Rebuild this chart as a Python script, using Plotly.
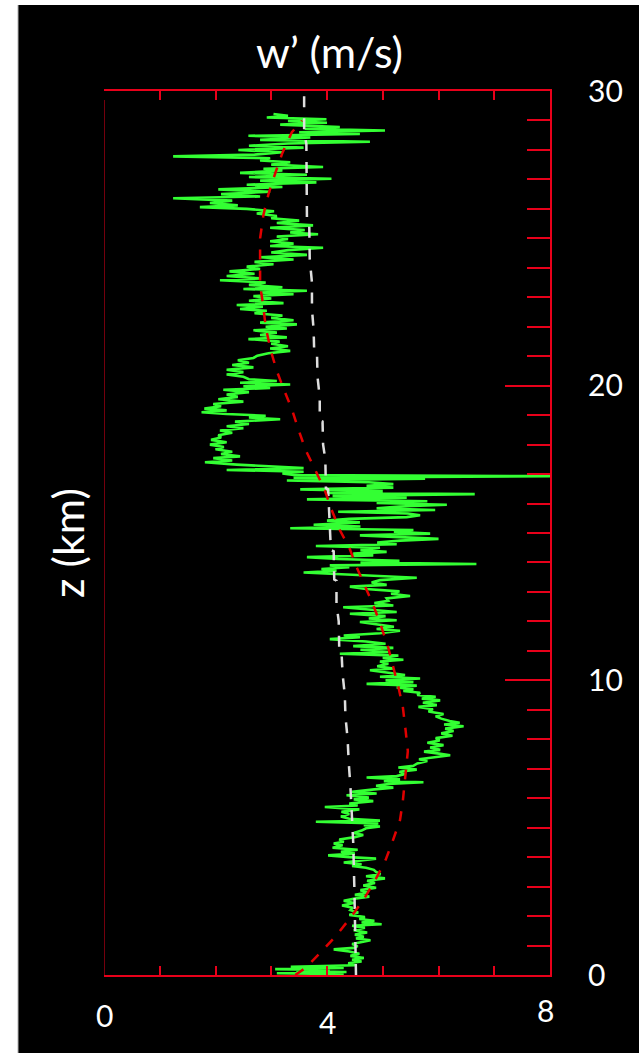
import plotly.graph_objects as go

# ---- canvas / plot box (pixels) ----
W, H = 639, 1053
ML, MR, MT, MB = 104, 89, 91, 78
PW, PH = W - ML - MR, H - MT - MB

# ---- axis content ----
x_range = [0, 8]
z_range = [0, 30]
z_major = [0, 10, 20, 30]
z_labels = ["0", "10", "20", "30"]
x_label_vals = [0, 4, 8]
x_label_text = ["0", "4", "8"]

# ---- measured w' profile, (z km, w' m/s), split by altitude band ----
green_0_4 = [
    (0.00, 3.55), (0.03, 4.30), (0.06, 3.10), (0.10, 4.35), (0.13, 3.45), (0.17, 4.05),
    (0.20, 3.07), (0.24, 4.30), (0.28, 3.35), (0.33, 4.50), (0.40, 4.38), (0.46, 4.62),
    (0.52, 4.45), (0.58, 4.66), (0.65, 4.42), (0.72, 4.58), (0.80, 4.40), (0.87, 4.12),
    (0.92, 4.48), (0.98, 4.55), (1.05, 4.45), (1.12, 4.62), (1.18, 4.78), (1.24, 4.52),
    (1.30, 4.66), (1.37, 4.50), (1.44, 4.72), (1.52, 4.48), (1.60, 4.68), (1.67, 4.45),
    (1.72, 4.98), (1.78, 4.62), (1.84, 4.85), (1.90, 4.58), (1.97, 4.68), (2.04, 4.40),
    (2.12, 4.56), (2.20, 4.42), (2.28, 4.46), (2.36, 4.27), (2.44, 4.48), (2.52, 4.30),
    (2.60, 4.52), (2.66, 4.76), (2.72, 4.50), (2.80, 4.73), (2.88, 4.60), (2.96, 4.88),
    (3.04, 4.65), (3.12, 4.86), (3.20, 4.72), (3.28, 5.04), (3.35, 4.70), (3.42, 4.96),
    (3.50, 4.88), (3.57, 4.84), (3.64, 4.70), (3.70, 4.45), (3.76, 4.62), (3.82, 4.30),
    (3.88, 4.56), (3.95, 4.88), (4.00, 4.40), (4.06, 4.02), (4.12, 4.50), (4.18, 4.25),
]
green_4_10 = [
    (4.25, 4.55), (4.32, 4.10), (4.40, 4.28), (4.46, 4.12), (4.52, 4.30), (4.60, 4.22),
    (4.68, 4.50), (4.75, 4.65), (4.82, 4.48), (4.90, 4.62), (4.98, 4.70), (5.04, 4.95),
    (5.08, 4.66), (5.14, 4.92), (5.20, 3.80), (5.24, 4.95), (5.30, 4.40), (5.38, 4.25),
    (5.46, 4.40), (5.54, 4.26), (5.62, 4.58), (5.70, 3.96), (5.75, 4.55), (5.82, 4.40),
    (5.90, 4.83), (5.96, 4.48), (6.02, 4.75), (6.10, 4.35), (6.16, 4.89), (6.22, 4.45),
    (6.30, 4.85), (6.36, 5.19), (6.42, 4.88), (6.48, 5.10), (6.54, 5.73), (6.58, 5.02),
    (6.64, 5.31), (6.70, 4.71), (6.75, 5.25), (6.82, 5.40), (6.90, 5.30), (6.97, 5.61),
    (7.04, 5.28), (7.10, 5.55), (7.18, 5.62), (7.26, 5.80), (7.32, 5.65), (7.40, 5.95),
    (7.46, 6.21), (7.52, 5.98), (7.58, 5.74), (7.64, 6.03), (7.72, 5.85), (7.80, 6.09),
    (7.88, 5.80), (7.96, 6.02), (8.04, 5.95), (8.12, 6.25), (8.20, 6.05), (8.28, 6.27),
    (8.36, 6.12), (8.44, 6.45), (8.50, 6.10), (8.56, 6.38), (8.62, 6.20), (8.70, 6.05),
    (8.78, 5.95), (8.86, 6.09), (8.94, 5.82), (9.02, 5.90), (9.10, 5.64), (9.16, 5.97),
    (9.24, 5.72), (9.32, 6.03), (9.38, 5.70), (9.44, 5.95), (9.50, 5.62), (9.58, 5.67),
    (9.64, 5.37), (9.70, 5.55),
]
green_10_17 = [
    (9.76, 5.25), (9.82, 5.61), (9.88, 4.71), (9.94, 5.55), (10.00, 5.05), (10.06, 5.67),
    (10.12, 4.95), (10.18, 5.40), (10.26, 5.10), (10.34, 4.77), (10.40, 5.19), (10.48, 4.90),
    (10.56, 5.10), (10.64, 4.95), (10.70, 5.37), (10.76, 5.00), (10.84, 5.28), (10.90, 4.23),
    (10.96, 5.10), (11.04, 4.60), (11.10, 5.19), (11.16, 4.47), (11.24, 5.05), (11.32, 4.70),
    (11.40, 4.05), (11.46, 4.59), (11.52, 4.30), (11.60, 4.95), (11.68, 5.31), (11.74, 4.89),
    (11.82, 5.20), (11.90, 4.90), (11.98, 4.59), (12.04, 5.25), (12.10, 4.75), (12.18, 5.05),
    (12.26, 4.41), (12.32, 5.25), (12.40, 4.80), (12.48, 4.29), (12.54, 5.19), (12.62, 4.85),
    (12.70, 5.10), (12.78, 5.07), (12.86, 5.49), (12.94, 5.15), (13.02, 5.30), (13.10, 4.70),
    (13.18, 4.41), (13.24, 5.07), (13.32, 4.80), (13.40, 4.95), (13.48, 5.61), (13.54, 5.00),
    (13.60, 4.40), (13.66, 3.58), (13.72, 4.17), (13.78, 3.90), (13.84, 4.40), (13.90, 4.05),
    (13.95, 6.68), (14.00, 4.60), (14.06, 5.30), (14.12, 4.20), (14.18, 3.64), (14.24, 4.83),
    (14.30, 4.47), (14.36, 5.07), (14.42, 4.60), (14.50, 4.95), (14.56, 3.80), (14.62, 5.25),
    (14.68, 4.90), (14.74, 5.31), (14.80, 6.00), (14.86, 5.40), (14.92, 4.59), (14.98, 5.85),
    (15.04, 5.20), (15.10, 5.55), (15.16, 3.34), (15.22, 4.60), (15.28, 3.76), (15.36, 4.59),
    (15.42, 4.00), (15.48, 4.40), (15.54, 5.43), (15.60, 5.67), (15.66, 5.45), (15.72, 4.20),
    (15.78, 5.94), (15.84, 4.89), (15.90, 5.30), (15.96, 6.15), (16.02, 4.89), (16.08, 5.80),
    (16.14, 3.64), (16.20, 5.43), (16.26, 4.10), (16.32, 6.65), (16.36, 3.99), (16.42, 5.00),
    (16.48, 3.52), (16.54, 5.19), (16.60, 4.71), (16.66, 5.19), (16.72, 4.75), (16.78, 3.28),
    (16.84, 5.76), (16.88, 3.40), (16.93, 8.00), (16.97, 3.40), (17.02, 3.20), (17.08, 3.58),
    (17.14, 2.20), (17.20, 3.58), (17.26, 2.90),
]
green_17_23 = [
    (17.32, 2.38), (17.40, 1.81), (17.46, 2.30), (17.54, 1.96), (17.60, 2.44), (17.68, 2.10),
    (17.76, 2.30), (17.84, 2.00), (17.92, 2.15), (18.00, 1.90), (18.08, 2.20), (18.16, 1.92),
    (18.24, 2.10), (18.32, 2.05), (18.40, 2.30), (18.48, 2.08), (18.56, 2.50), (18.62, 2.20),
    (18.70, 2.60), (18.78, 2.35), (18.86, 3.16), (18.92, 2.60), (18.98, 2.90), (19.04, 2.20),
    (19.10, 1.75), (19.16, 2.20), (19.22, 1.80), (19.30, 2.10), (19.38, 1.96), (19.46, 2.50),
    (19.54, 2.05), (19.62, 2.40), (19.70, 2.20), (19.78, 2.60), (19.86, 2.14), (19.92, 2.98),
    (19.98, 2.50), (20.04, 3.34), (20.10, 2.44), (20.16, 3.10), (20.22, 2.60), (20.30, 2.50),
    (20.38, 2.20), (20.46, 2.50), (20.54, 2.20), (20.62, 2.68), (20.70, 2.30), (20.78, 2.60),
    (20.86, 2.40), (20.94, 2.68), (21.02, 2.75), (21.10, 2.95), (21.18, 3.34), (21.26, 2.98),
    (21.34, 3.30), (21.42, 3.00), (21.50, 3.15), (21.58, 2.59), (21.64, 3.28), (21.72, 2.80),
    (21.80, 3.10), (21.88, 2.68), (21.94, 3.28), (22.00, 2.90), (22.08, 3.46), (22.14, 2.80),
    (22.22, 3.40), (22.30, 3.00), (22.38, 3.20), (22.46, 2.70), (22.54, 2.92), (22.60, 2.44),
    (22.68, 2.85), (22.74, 2.38), (22.80, 3.22), (22.88, 2.60), (22.96, 3.00), (23.04, 2.68),
    (23.10, 3.40), (23.16, 2.80), (23.22, 3.64),
]
green_23_30 = [
    (23.28, 2.50), (23.34, 3.20), (23.42, 2.60), (23.50, 2.90), (23.58, 2.08), (23.64, 2.80),
    (23.72, 2.20), (23.80, 2.70), (23.88, 2.25), (23.96, 2.80), (24.04, 2.56), (24.12, 3.04),
    (24.20, 2.70), (24.28, 3.40), (24.36, 2.80), (24.44, 3.64), (24.52, 3.00), (24.60, 3.30),
    (24.68, 3.93), (24.74, 2.98), (24.82, 3.40), (24.90, 2.98), (24.98, 3.30), (25.06, 3.10),
    (25.14, 3.84), (25.20, 3.34), (25.28, 3.60), (25.36, 2.98), (25.44, 3.75), (25.52, 3.10),
    (25.60, 3.50), (25.68, 3.00), (25.76, 3.10), (25.84, 2.74), (25.92, 3.05), (26.00, 2.56),
    (26.06, 1.72), (26.12, 2.40), (26.20, 1.90), (26.28, 2.30), (26.36, 1.24), (26.42, 2.80),
    (26.50, 2.10), (26.58, 2.98), (26.66, 2.05), (26.74, 3.20), (26.82, 2.56), (26.90, 3.81),
    (26.96, 2.80), (27.02, 4.08), (27.08, 2.60), (27.16, 3.64), (27.22, 2.44), (27.30, 3.20),
    (27.36, 2.86), (27.42, 3.93), (27.50, 3.00), (27.58, 3.34), (27.64, 2.80), (27.72, 2.98),
    (27.78, 1.24), (27.84, 2.70), (27.92, 3.20), (28.00, 2.41), (28.08, 3.58), (28.14, 2.60),
    (28.22, 3.30), (28.28, 4.77), (28.34, 2.80), (28.42, 3.70), (28.48, 2.59), (28.54, 4.59),
    (28.60, 3.50), (28.66, 5.04), (28.72, 3.60), (28.78, 4.23), (28.86, 3.16), (28.92, 4.00),
    (28.98, 3.30), (29.04, 3.99), (29.10, 2.92), (29.16, 3.30), (29.22, 3.04),
]

# ---- smoothed profile (red dashed), (z km, w' m/s) ----
red_profile = [
    (0.00, 3.43), (0.22, 3.60), (0.79, 3.90), (1.35, 4.17), (1.92, 4.41), (2.54, 4.65),
    (3.20, 4.86), (3.90, 5.05), (4.50, 5.17), (5.26, 5.31), (5.90, 5.36), (6.73, 5.40),
    (7.60, 5.45), (8.30, 5.41), (9.10, 5.36), (9.78, 5.28), (10.46, 5.19), (11.10, 5.10),
    (11.90, 4.96), (12.55, 4.83), (13.20, 4.68), (13.85, 4.53), (14.50, 4.40), (15.10, 4.23),
    (15.80, 4.08), (16.45, 3.96), (17.10, 3.80), (17.80, 3.62), (18.50, 3.49), (19.20, 3.37),
    (19.85, 3.23), (20.50, 3.10), (21.20, 2.99), (22.00, 2.90), (22.80, 2.85), (23.40, 2.80),
    (24.20, 2.80), (25.00, 2.80), (25.80, 2.86), (26.50, 2.95), (27.20, 3.07), (27.90, 3.20),
    (28.60, 3.37), (29.00, 3.55),
]

# ---- reference profile (white dashed), (z km, w' m/s) ----
white_profile = [
    (0.00, 4.52), (1.50, 4.51), (3.00, 4.49), (4.50, 4.47), (5.50, 4.45), (6.40, 4.42),
    (7.20, 4.39), (8.00, 4.37), (8.80, 4.33), (9.50, 4.32), (10.20, 4.28), (10.98, 4.26),
    (11.02, 4.22), (12.00, 4.21), (12.60, 4.17), (13.38, 4.17), (13.42, 4.13), (14.38, 4.12),
    (14.42, 4.07), (15.80, 4.04), (16.48, 4.02), (16.52, 3.98), (17.50, 3.97), (18.00, 3.93),
    (18.78, 3.92), (18.82, 3.87), (19.60, 3.87), (20.30, 3.83), (21.13, 3.82), (21.17, 3.77),
    (21.90, 3.76), (22.60, 3.73), (23.50, 3.73), (24.30, 3.69), (25.00, 3.68), (25.68, 3.68),
    (25.72, 3.64), (27.00, 3.64), (28.20, 3.63), (28.60, 3.59), (29.85, 3.59),
]

RED = "#e8001a"
GREEN = "#33ff33"
FONT = "Lato, 'Open Sans', sans-serif"

green = green_0_4 + green_4_10 + green_10_17 + green_17_23 + green_23_30

fig = go.Figure()
fig.add_trace(go.Scatter(
    x=[w for _, w in green], y=[z for z, _ in green],
    mode="lines", line=dict(color=GREEN, width=2.6), hoverinfo="skip",
))
fig.add_trace(go.Scatter(
    x=[w for _, w in white_profile], y=[z for z, _ in white_profile],
    mode="lines", line=dict(color="#dedede", width=2.5, dash="11px,11px"), hoverinfo="skip",
))
fig.add_trace(go.Scatter(
    x=[w for _, w in red_profile], y=[z for z, _ in red_profile],
    mode="lines", line=dict(color="#e00000", width=2.5, dash="10px,11px"), hoverinfo="skip",
))


def px_x(p):
    return (p - ML) / PW


def px_y(p):
    return (H - MB - p) / PH


shapes = [
    # black page area with a narrow white strip at the left and top
    dict(type="rect", xref="paper", yref="paper", layer="below",
         x0=px_x(18), x1=px_x(W + 5), y0=px_y(H + 5), y1=px_y(5),
         fillcolor="black", line=dict(width=0)),
    dict(type="line", xref="paper", yref="paper", layer="below",
         x0=px_x(18), x1=px_x(18), y0=px_y(H + 5), y1=px_y(5),
         line=dict(color="#b0b0b0", width=1)),
    # thin left frame edge
    dict(type="line", xref="x", yref="paper", x0=x_range[0], x1=x_range[0],
         y0=0, y1=px_y(MT + 9), line=dict(color=RED, width=1)),
]

annotations = [
    dict(text="w’ (m/s)", xref="paper", yref="paper", x=px_x(329), y=px_y(52),
         xanchor="center", yanchor="middle",
         showarrow=False, font=dict(family=FONT, size=43, color="white")),
    dict(text="z (km)", xref="paper", yref="paper", x=px_x(67), y=px_y(543),
         xanchor="center", yanchor="middle",
         textangle=-90, showarrow=False, font=dict(family=FONT, size=43, color="white")),
]
x_label_drop = [40, 47, 35]
x_label_shift = [0, 0, -5]
for v, t, d, s in zip(x_label_vals, x_label_text, x_label_drop, x_label_shift):
    annotations.append(dict(text=t, x=v, xref="x", y=0, yref="paper", yshift=-d, xshift=s,
                            xanchor="center", yanchor="middle",
                            showarrow=False, font=dict(family=FONT, size=30, color="white")))

fig.update_layout(
    width=W, height=H,
    margin=dict(l=ML, r=MR, t=MT, b=MB, pad=0),
    paper_bgcolor="white", plot_bgcolor="black",
    showlegend=False,
    shapes=shapes, annotations=annotations,
    xaxis=dict(
        range=x_range, showgrid=False, zeroline=False,
        showline=True, linecolor=RED, linewidth=2, mirror="allticks",
        ticks="inside", tick0=0, dtick=1, ticklen=9, tickwidth=2, tickcolor=RED,
        showticklabels=False,
    ),
    yaxis=dict(
        range=z_range, side="right", showgrid=False, zeroline=False,
        showline=True, linecolor=RED, linewidth=2,
        ticks="inside", tickvals=z_major, ticktext=z_labels,
        ticklen=45, tickwidth=2, tickcolor=RED,
        ticklabelstandoff=30,
        tickfont=dict(family=FONT, size=30, color="white"),
        minor=dict(dtick=1, tick0=0, ticks="inside", ticklen=23, tickwidth=2, tickcolor=RED),
    ),
)

fig.write_html("out.html")
